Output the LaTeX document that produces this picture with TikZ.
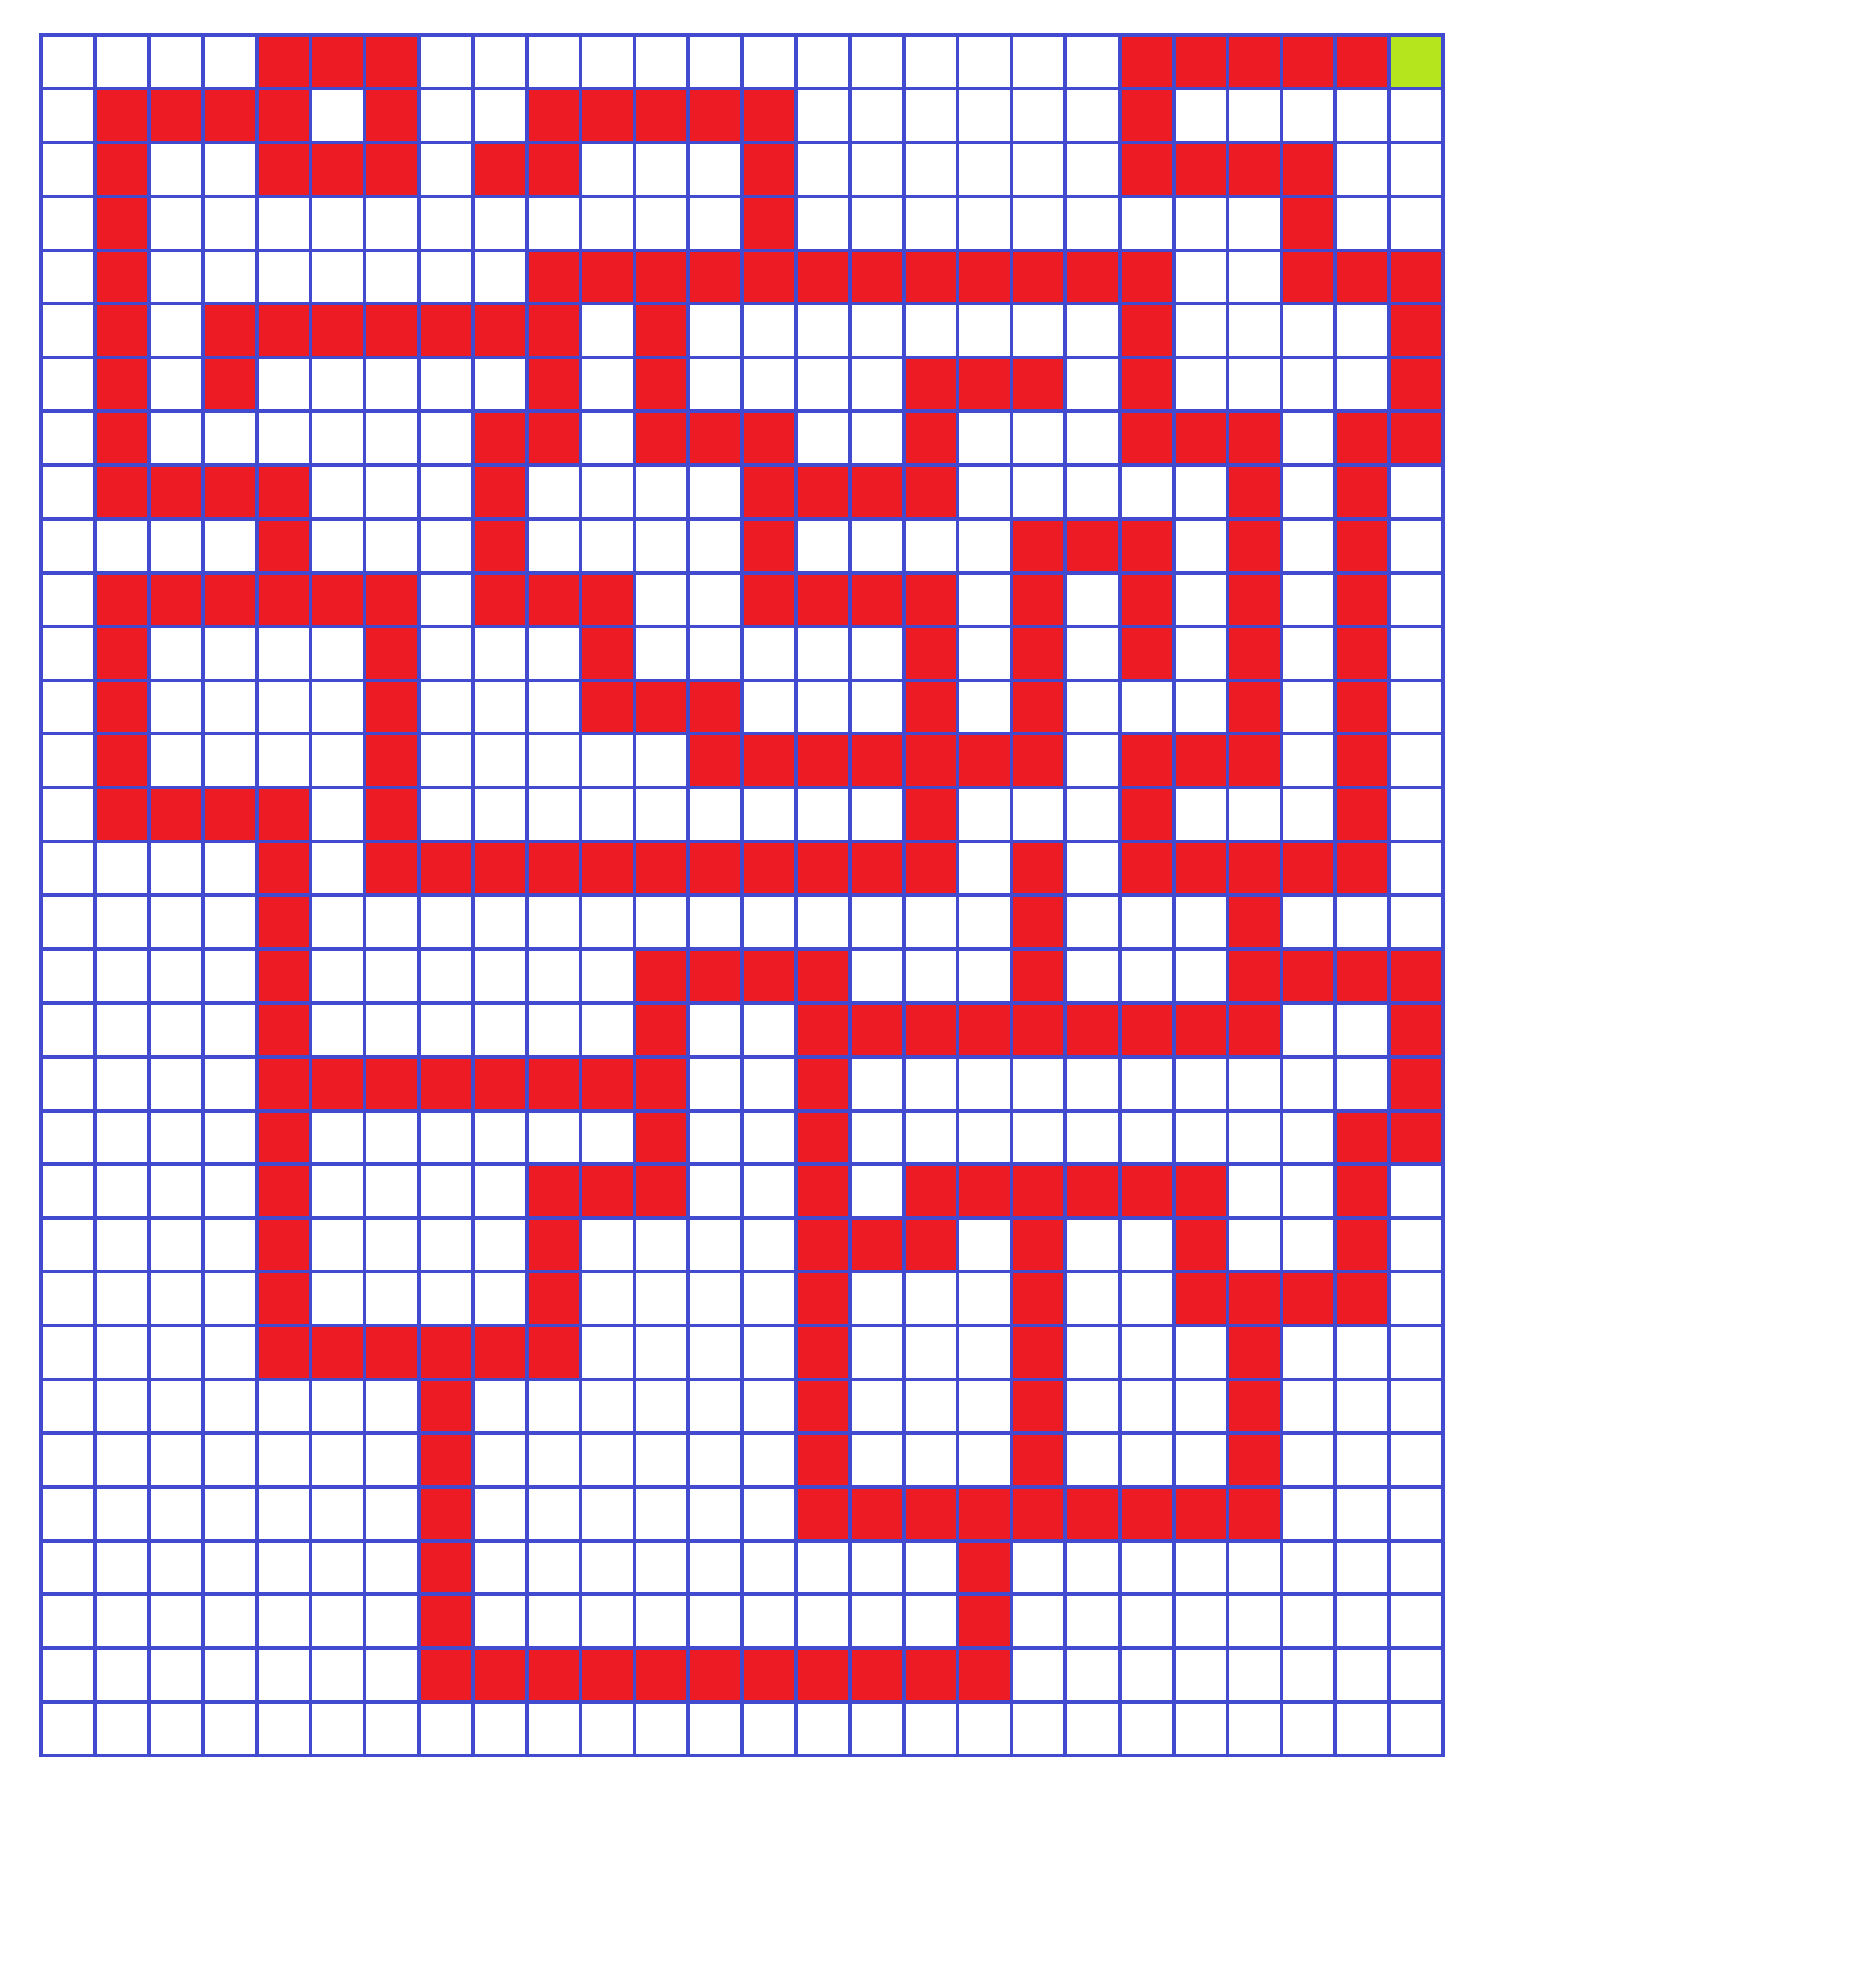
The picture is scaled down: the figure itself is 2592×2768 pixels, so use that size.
\documentclass[tikz,border=0pt]{standalone}
\definecolor{gridblue}{RGB}{66,75,207}
\definecolor{wallred}{RGB}{237,28,36}
\definecolor{goalgreen}{RGB}{181,230,29}
\newcommand\ox{57.5}
\newcommand\oy{48.5}
\newcommand\cw{75.077}
\newcommand\ch{74.875}
\newcommand\redrow[2]{\foreach \c in {#2}{\fill[cellred] ({\ox+\c*\cw},{\oy+#1*\ch}) rectangle ++(\cw,\ch);}}
\begin{document}
\begin{tikzpicture}[x=1pt,y=-1pt,
  cellred/.style={fill=wallred},
  cellgreen/.style={fill=goalgreen},
  gridline/.style={draw=gridblue,line width=5pt,line cap=rect}]
\useasboundingbox (0,0) rectangle (2592,2768);
\fill[white] (0,0) rectangle (2592,2768);
\redrow{0}{4,5,6,20,21,22,23,24}
\fill[cellgreen] ({\ox+25*\cw},{\oy}) rectangle ++(\cw,\ch);
\redrow{1}{1,2,3,4,6,9,10,11,12,13,20}
\redrow{2}{1,4,5,6,8,9,13,20,21,22,23}
\redrow{3}{1,13,23}
\redrow{4}{1,9,10,11,12,13,14,15,16,17,18,19,20,23,24,25}
\redrow{5}{1,3,4,5,6,7,8,9,11,20,25}
\redrow{6}{1,3,9,11,16,17,18,20,25}
\redrow{7}{1,8,9,11,12,13,16,20,21,22,24,25}
\redrow{8}{1,2,3,4,8,13,14,15,16,22,24}
\redrow{9}{4,8,13,18,19,20,22,24}
\redrow{10}{1,2,3,4,5,6,8,9,10,13,14,15,16,18,20,22,24}
\redrow{11}{1,6,10,16,18,20,22,24}
\redrow{12}{1,6,10,11,12,16,18,22,24}
\redrow{13}{1,6,12,13,14,15,16,17,18,20,21,22,24}
\redrow{14}{1,2,3,4,6,16,20,24}
\redrow{15}{4,6,7,8,9,10,11,12,13,14,15,16,18,20,21,22,23,24}
\redrow{16}{4,18,22}
\redrow{17}{4,11,12,13,14,18,22,23,24,25}
\redrow{18}{4,11,14,15,16,17,18,19,20,21,22,25}
\redrow{19}{4,5,6,7,8,9,10,11,14,25}
\redrow{20}{4,11,14,24,25}
\redrow{21}{4,9,10,11,14,16,17,18,19,20,21,24}
\redrow{22}{4,9,14,15,16,18,21,24}
\redrow{23}{4,9,14,18,21,22,23,24}
\redrow{24}{4,5,6,7,8,9,14,18,22}
\redrow{25}{7,14,18,22}
\redrow{26}{7,14,18,22}
\redrow{27}{7,14,15,16,17,18,19,20,21,22}
\redrow{28}{7,17}
\redrow{29}{7,17}
\redrow{30}{7,8,9,10,11,12,13,14,15,16,17}
\foreach \i in {0,...,26}{\draw[gridline] ({\ox+\i*\cw},{\oy}) -- ({\ox+\i*\cw},{\oy+32*\ch});}
\foreach \j in {0,...,32}{\draw[gridline] ({\ox},{\oy+\j*\ch}) -- ({\ox+26*\cw},{\oy+\j*\ch});}
\end{tikzpicture}
\end{document}
